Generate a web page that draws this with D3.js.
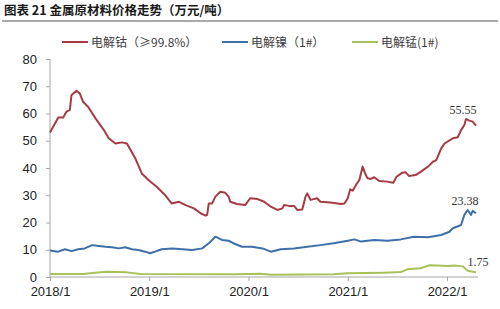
<!DOCTYPE html>
<html>
<head>
<meta charset="utf-8">
<script src="https://cdn.jsdelivr.net/npm/d3@7"></script>
<style>
  body { margin: 0; background: #fff; }
  svg { display: block; font-family: "Liberation Sans", Arial, sans-serif; }
</style>
</head>
<body>
<svg id="chart" width="500" height="309"></svg>
<script>
//-------------------------------------------------
// Data (months counted from 2018/1, prices in 万元/吨)
//-------------------------------------------------
var xTickMonths = [0, 12, 24, 36, 48];
var xTickLabels = ["2018/1", "2019/1", "2020/1", "2021/1", "2022/1"];
var yTicks = [0, 10, 20, 30, 40, 50, 60, 70, 80];

var seriesNames = ["电解钴（≥99.8%）", "电解镍（1#）", "电解锰(1#)"];
var seriesColors = ["#a63b43", "#3e6fa8", "#a9c15b"];

var cobaltMonths = [0, 1.0, 1.6, 2.0, 2.4, 2.6, 3.2, 3.6, 4.0, 4.6, 5.5, 6.5, 7.1, 7.9, 8.7, 9.3, 10.3, 11.1, 11.9,
  12.9, 13.9, 14.7, 15.6, 16.4, 17.4, 18.2, 18.8, 19.0, 19.2, 19.6, 20.0, 20.6, 21.2, 21.6, 21.8, 22.6, 23.6,
  24.2, 25.1, 25.9, 26.7, 27.5, 28.1, 28.3, 28.9, 29.5, 29.9, 30.5, 30.9, 31.1, 31.5, 32.3, 32.7, 33.9, 35.2, 35.6,
  36.0, 36.3, 36.6, 37.0, 37.4, 37.8, 38.1, 38.4, 38.8, 39.2, 39.8, 40.8, 41.5, 41.9, 42.6, 43.0, 43.4, 44.2, 44.8,
  45.7, 46.3, 46.7, 47.3, 47.7, 48.7, 49.3, 49.7, 50.1, 50.3, 50.7, 51.1, 51.5];
var cobaltValues = [53.0, 58.5, 58.5, 60.7, 61.3, 66.8, 68.3, 67.4, 64.3, 62.5, 58.2, 54.0, 50.9, 49.0, 49.4, 49.0, 43.6, 38.0, 35.6,
  33.1, 30.1, 27.0, 27.6, 26.4, 25.2, 23.4, 22.5, 22.8, 27.0, 27.0, 29.5, 31.3, 30.9, 29.5, 27.6, 26.8, 26.4,
  28.9, 28.6, 27.6, 25.8, 24.6, 25.2, 26.4, 26.1, 26.1, 24.6, 24.8, 29.5, 30.7, 28.3, 28.9, 27.6, 27.3, 26.8, 27.0,
  28.9, 32.2, 31.7, 33.8, 35.6, 40.5, 38.0, 36.2, 36.0, 36.6, 35.2, 35.0, 34.6, 36.8, 38.3, 38.4, 37.1, 37.4, 38.6,
  40.5, 42.3, 42.9, 47.2, 49.0, 50.9, 51.3, 53.9, 55.8, 58.0, 57.4, 57.0, 55.55];

var nickelMonths = [0, 1.0, 1.8, 2.6, 3.4, 4.2, 5.1, 5.9, 6.7, 7.5, 8.3, 9.1, 9.9, 10.7, 11.5, 12.1, 12.7, 13.5,
  14.8, 16.0, 17.2, 18.4, 19.2, 20.0, 20.8, 21.6, 22.4, 23.2, 24.4, 25.7, 26.7, 27.9, 29.5, 31.1, 32.7, 34.3,
  36.0, 36.8, 37.6, 39.2, 40.8, 42.4, 44.0, 45.7, 47.3, 48.3, 48.7, 49.7, 50.1, 50.5, 50.9, 51.1, 51.5];
var nickelValues = [9.7, 9.3, 10.2, 9.5, 10.2, 10.5, 11.7, 11.4, 11.1, 10.9, 10.5, 10.9, 10.2, 9.9, 9.3, 8.7, 9.3, 10.2,
  10.5, 10.2, 9.9, 10.5, 12.4, 14.8, 13.6, 13.3, 12.1, 11.1, 11.1, 10.5, 9.3, 10.2, 10.5, 11.1, 11.7, 12.4,
  13.3, 13.8, 13.0, 13.6, 13.3, 13.8, 14.8, 14.6, 15.4, 16.6, 17.9, 19.1, 22.8, 24.6, 22.8, 24.3, 23.38];

var manganeseMonths = [0, 4.0, 6.1, 6.9, 9.3, 10.9, 22.2, 25.5, 26.7, 34.3, 36.0, 40.4, 42.4, 43.2, 44.8, 45.9,
  46.9, 48.1, 48.9, 49.9, 50.5, 51.5];
var manganeseValues = [1.1, 1.1, 1.7, 1.9, 1.7, 1.1, 1.0, 1.2, 0.85, 1.0, 1.35, 1.6, 1.8, 2.8, 3.2, 4.3,
  4.2, 4.0, 4.2, 3.9, 2.3, 1.75];
//-------------------------------------------------

var svg = d3.select("#chart");

var x = d3.scaleLinear().domain([0, 48]).range([50, 447]);
var y = d3.scaleLinear().domain([0, 80]).range([277, 59]);

// title + rule
svg.append("text")
  .attr("x", 4).attr("y", 15)
  .style("font-family", "'Noto Sans CJK SC', sans-serif")
  .style("font-size", "12.5px").style("font-weight", "bold").style("fill", "#1a1a1a")
  .text("图表 21 金属原材料价格走势（万元/吨）");
svg.append("line")
  .attr("x1", 2).attr("x2", 498).attr("y1", 21).attr("y2", 21)
  .style("stroke", "#555").style("stroke-width", 1.2);

// axes
var yAxis = d3.axisLeft(y).tickValues(yTicks).tickSize(4).tickPadding(9);
var gy = svg.append("g").attr("transform", "translate(50,0)").call(yAxis);
gy.select(".domain").attr("d", "M0," + y(80) + "V" + y(0));

var xAxis = d3.axisBottom(x).tickValues(xTickMonths).tickSize(4).tickPadding(6)
  .tickFormat(function(d, i) { return xTickLabels[i]; });
var gx = svg.append("g").attr("transform", "translate(0,277)").call(xAxis);
gx.select(".domain").attr("d", "M50,0H478");

svg.selectAll(".domain, .tick line").style("stroke", "#a6a6a6");
svg.selectAll(".tick text").style("font-size", "13px").style("fill", "#222")
  .style("font-family", "'Liberation Sans', Arial, sans-serif");

// lines
var allSeries = [
  {months: cobaltMonths, values: cobaltValues},
  {months: nickelMonths, values: nickelValues},
  {months: manganeseMonths, values: manganeseValues}
];
var line = d3.line()
  .x(function(d) { return x(d[0]); })
  .y(function(d) { return y(d[1]); });

// draw manganese first, then nickel, cobalt on top
[2, 1, 0].forEach(function(k) {
  var s = allSeries[k];
  var pts = s.months.map(function(m, i) { return [m, s.values[i]]; });
  svg.append("path")
    .datum(pts)
    .attr("d", line)
    .style("fill", "none")
    .style("stroke", seriesColors[k])
    .style("stroke-width", 2)
    .style("stroke-linejoin", "round");
});

// end labels
var labelOffsets = [[-13, -12], [-11, -8], [2, -6]];
allSeries.forEach(function(s, k) {
  var n = s.values.length - 1;
  svg.append("text")
    .attr("x", x(s.months[n]) + labelOffsets[k][0])
    .attr("y", y(s.values[n]) + labelOffsets[k][1])
    .attr("text-anchor", "middle")
    .style("font-family", "'Liberation Serif', 'Times New Roman', serif")
    .style("font-size", "12px").style("fill", "#333")
    .text(s.values[n].toFixed(2));
});

// legend
var legendX = [62, 222, 352];
var legend = svg.append("g");
seriesNames.forEach(function(name, k) {
  legend.append("line")
    .attr("x1", legendX[k]).attr("x2", legendX[k] + 26)
    .attr("y1", 42).attr("y2", 42)
    .style("stroke", seriesColors[k]).style("stroke-width", 2);
  legend.append("text")
    .attr("x", legendX[k] + 29).attr("y", 46.5)
    .style("font-family", "'Noto Sans CJK SC', sans-serif")
    .style("font-size", "12px").style("fill", "#404040")
    .text(name);
});
</script>
</body>
</html>
